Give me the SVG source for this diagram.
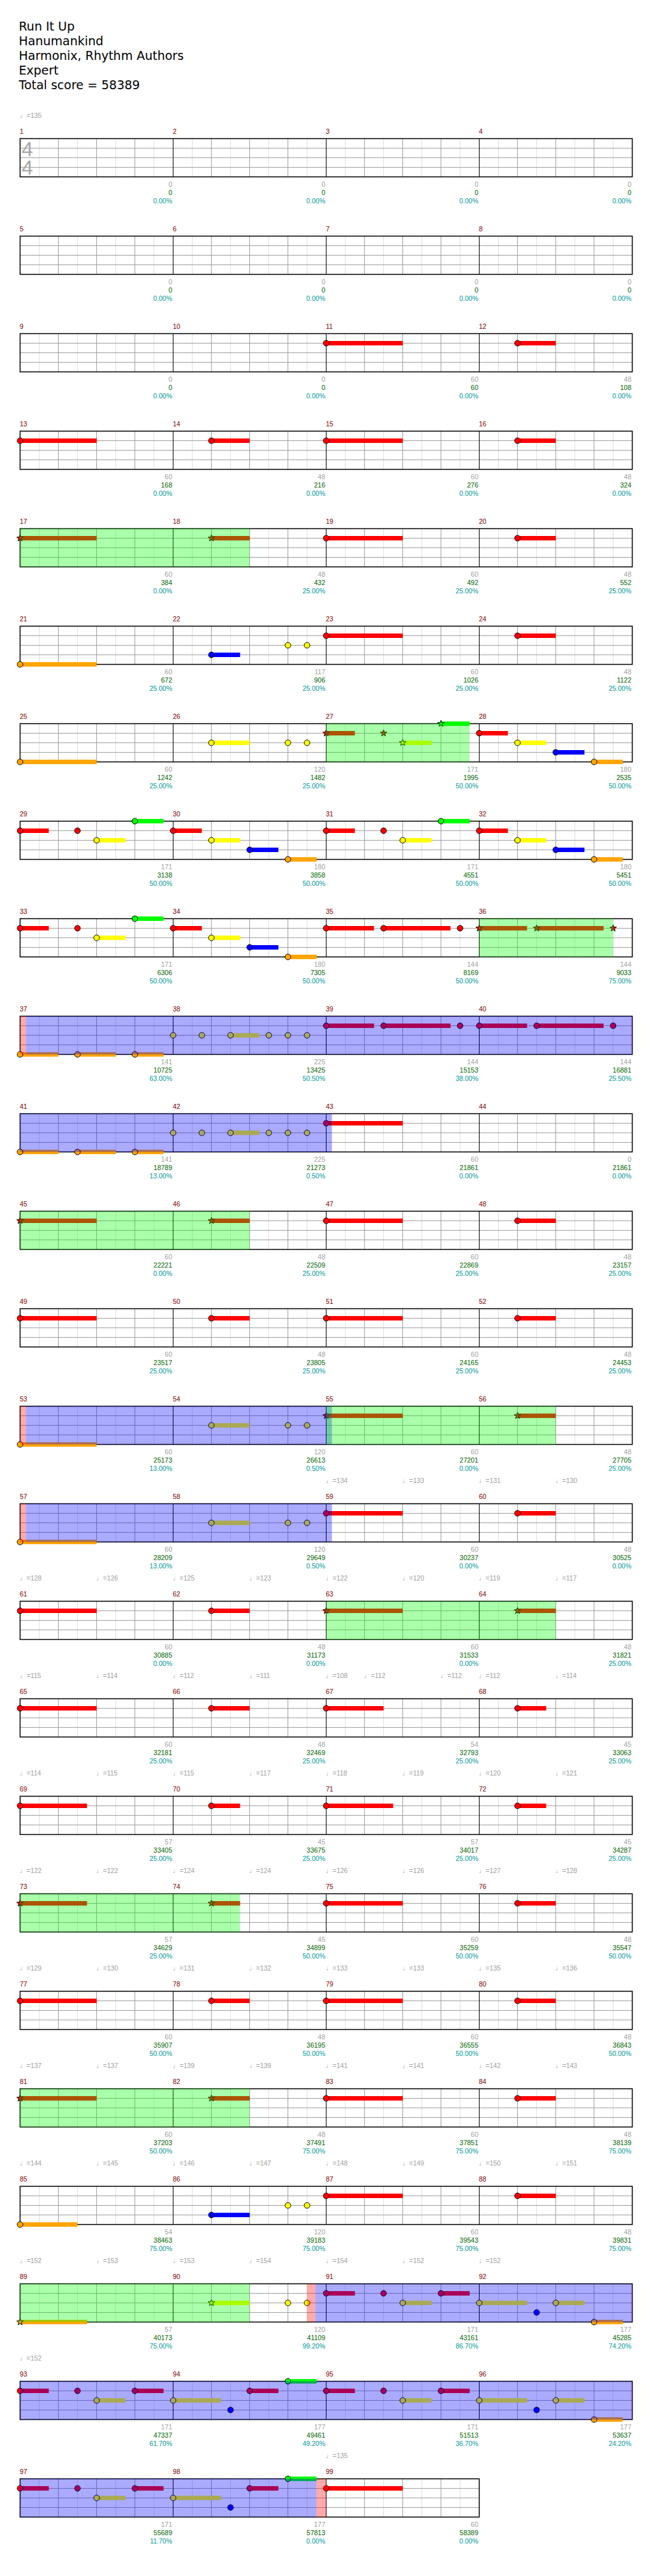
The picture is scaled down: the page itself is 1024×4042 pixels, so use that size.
<svg xmlns="http://www.w3.org/2000/svg" width="1024" height="4042" viewBox="0 0 1024 4042">
<style>
.ti{font-family:"DejaVu Sans",sans-serif;font-size:19px;fill:#000}
.mn{font-family:"Liberation Sans",Arial,sans-serif;font-size:10.5px;fill:#800000}
.a,.c,.d{font-family:"Liberation Sans",Arial,sans-serif;font-size:10.5px;text-anchor:end}
.a{fill:#a0a0a0}.c{fill:#006400}.d{fill:#009999}
.tp{font-family:"Liberation Sans","DejaVu Sans",sans-serif;font-size:10.5px;fill:#a0a0a0}
.ts{font-family:"Liberation Sans",Arial,sans-serif;font-size:32px;fill:#a8a8a8}
circle,use.s{stroke:#000;stroke-width:1}
.r{fill:#f00}.y{fill:#ff0}.b{fill:#00f}.o{fill:#ffa500}.g{fill:#0f0}
.og{fill:#0f0;fill-opacity:.333}.ob{fill:#00f;fill-opacity:.333}.op{fill:#f00;fill-opacity:.333}
</style>
<defs>
<g id="mg">
<path d="M30 0V60M90 0V60M150 0V60M210 0V60" stroke="#e0e0e0"/>
<path d="M60 0V60M120 0V60M180 0V60M0 15H240M0 30H240M0 45H240" stroke="#a0a0a0"/>
<path d="M0 0V60" stroke="#000"/>
</g>
<g id="g4">
<use href="#mg" x="31.5"/><use href="#mg" x="271.5"/><use href="#mg" x="511.5"/><use href="#mg" x="751.5"/>
<rect x="31.5" y="0" width="960" height="60" fill="none" stroke="#000" stroke-width="1.5"/>
</g>
<g id="g3">
<use href="#mg" x="31.5"/><use href="#mg" x="271.5"/><use href="#mg" x="511.5"/>
<rect x="31.5" y="0" width="720" height="60" fill="none" stroke="#000" stroke-width="1.5"/>
</g>
<path id="st" d="M0,-5.5L1.29,-1.78L5.23,-1.7L2.09,0.68L3.23,4.45L0,2.2L-3.23,4.45L-2.09,0.68L-5.23,-1.7L-1.29,-1.78Z"/>
</defs>

<g id="header">
<text class="ti" x="29.5" y="48">Run It Up</text>
<text class="ti" x="29.5" y="71">Hanumankind</text>
<text class="ti" x="29.5" y="94">Harmonix, Rhythm Authors</text>
<text class="ti" x="29.5" y="117">Expert</text>
<text class="ti" x="29.5" y="140">Total score = 58389</text>
</g>

<g id="row1" transform="translate(0,217.5)">
<use href="#g4"/>
<text class="ts" x="34" y="27.5">4</text><text class="ts" x="34" y="56.5">4</text>
<text class="tp" x="31" y="-33">♩=135</text>
<text class="mn" y="-8"><tspan x="31">1</tspan><tspan x="271">2</tspan><tspan x="511">3</tspan><tspan x="751">4</tspan></text>
<text class="a" y="75"><tspan x="270">0</tspan><tspan x="510">0</tspan><tspan x="750">0</tspan><tspan x="990">0</tspan></text>
<text class="c" y="88"><tspan x="270">0</tspan><tspan x="510">0</tspan><tspan x="750">0</tspan><tspan x="990">0</tspan></text>
<text class="d" y="101"><tspan x="270">0.00%</tspan><tspan x="510">0.00%</tspan><tspan x="750">0.00%</tspan><tspan x="990">0.00%</tspan></text>
</g>

<g id="row2" transform="translate(0,370.5)">
<use href="#g4"/>
<text class="mn" y="-8"><tspan x="31">5</tspan><tspan x="271">6</tspan><tspan x="511">7</tspan><tspan x="751">8</tspan></text>
<text class="a" y="75"><tspan x="270">0</tspan><tspan x="510">0</tspan><tspan x="750">0</tspan><tspan x="990">0</tspan></text>
<text class="c" y="88"><tspan x="270">0</tspan><tspan x="510">0</tspan><tspan x="750">0</tspan><tspan x="990">0</tspan></text>
<text class="d" y="101"><tspan x="270">0.00%</tspan><tspan x="510">0.00%</tspan><tspan x="750">0.00%</tspan><tspan x="990">0.00%</tspan></text>
</g>

<g id="row3" transform="translate(0,523.5)">
<use href="#g4"/>
<rect class="r" x="511.5" y="11.5" width="120" height="7"/><rect class="r" x="811.5" y="11.5" width="60" height="7"/>
<circle class="r" cx="511.5" cy="15" r="4.5"/><circle class="r" cx="811.5" cy="15" r="4.5"/>
<text class="mn" y="-8"><tspan x="31">9</tspan><tspan x="271">10</tspan><tspan x="511">11</tspan><tspan x="751">12</tspan></text>
<text class="a" y="75"><tspan x="270">0</tspan><tspan x="510">0</tspan><tspan x="750">60</tspan><tspan x="990">48</tspan></text>
<text class="c" y="88"><tspan x="270">0</tspan><tspan x="510">0</tspan><tspan x="750">60</tspan><tspan x="990">108</tspan></text>
<text class="d" y="101"><tspan x="270">0.00%</tspan><tspan x="510">0.00%</tspan><tspan x="750">0.00%</tspan><tspan x="990">0.00%</tspan></text>
</g>

<g id="row4" transform="translate(0,676.5)">
<use href="#g4"/>
<rect class="r" x="31.5" y="11.5" width="120" height="7"/><rect class="r" x="331.5" y="11.5" width="60" height="7"/><rect class="r" x="511.5" y="11.5" width="120" height="7"/><rect class="r" x="811.5" y="11.5" width="60" height="7"/>
<circle class="r" cx="31.5" cy="15" r="4.5"/><circle class="r" cx="331.5" cy="15" r="4.5"/><circle class="r" cx="511.5" cy="15" r="4.5"/><circle class="r" cx="811.5" cy="15" r="4.5"/>
<text class="mn" y="-8"><tspan x="31">13</tspan><tspan x="271">14</tspan><tspan x="511">15</tspan><tspan x="751">16</tspan></text>
<text class="a" y="75"><tspan x="270">60</tspan><tspan x="510">48</tspan><tspan x="750">60</tspan><tspan x="990">48</tspan></text>
<text class="c" y="88"><tspan x="270">168</tspan><tspan x="510">216</tspan><tspan x="750">276</tspan><tspan x="990">324</tspan></text>
<text class="d" y="101"><tspan x="270">0.00%</tspan><tspan x="510">0.00%</tspan><tspan x="750">0.00%</tspan><tspan x="990">0.00%</tspan></text>
</g>

<g id="row5" transform="translate(0,829.5)">
<use href="#g4"/>
<rect class="r" x="31.5" y="11.5" width="120" height="7"/><rect class="r" x="331.5" y="11.5" width="60" height="7"/><rect class="r" x="511.5" y="11.5" width="120" height="7"/><rect class="r" x="811.5" y="11.5" width="60" height="7"/>
<use class="s r" href="#st" x="31.5" y="15"/><use class="s r" href="#st" x="331.5" y="15"/><circle class="r" cx="511.5" cy="15" r="4.5"/><circle class="r" cx="811.5" cy="15" r="4.5"/>
<rect class="og" x="31.5" y="0" width="360" height="60"/>
<text class="mn" y="-8"><tspan x="31">17</tspan><tspan x="271">18</tspan><tspan x="511">19</tspan><tspan x="751">20</tspan></text>
<text class="a" y="75"><tspan x="270">60</tspan><tspan x="510">48</tspan><tspan x="750">60</tspan><tspan x="990">48</tspan></text>
<text class="c" y="88"><tspan x="270">384</tspan><tspan x="510">432</tspan><tspan x="750">492</tspan><tspan x="990">552</tspan></text>
<text class="d" y="101"><tspan x="270">0.00%</tspan><tspan x="510">25.00%</tspan><tspan x="750">25.00%</tspan><tspan x="990">25.00%</tspan></text>
</g>

<g id="row6" transform="translate(0,982.5)">
<use href="#g4"/>
<rect class="o" x="31.5" y="56.5" width="120" height="7"/><rect class="b" x="331.5" y="41.5" width="45" height="7"/><rect class="r" x="511.5" y="11.5" width="120" height="7"/><rect class="r" x="811.5" y="11.5" width="60" height="7"/>
<circle class="o" cx="31.5" cy="60" r="4.5"/><circle class="b" cx="331.5" cy="45" r="4.5"/><circle class="y" cx="451.5" cy="30" r="4.5"/><circle class="y" cx="481.5" cy="30" r="4.5"/><circle class="r" cx="511.5" cy="15" r="4.5"/><circle class="r" cx="811.5" cy="15" r="4.5"/>
<text class="mn" y="-8"><tspan x="31">21</tspan><tspan x="271">22</tspan><tspan x="511">23</tspan><tspan x="751">24</tspan></text>
<text class="a" y="75"><tspan x="270">60</tspan><tspan x="510">117</tspan><tspan x="750">60</tspan><tspan x="990">48</tspan></text>
<text class="c" y="88"><tspan x="270">672</tspan><tspan x="510">906</tspan><tspan x="750">1026</tspan><tspan x="990">1122</tspan></text>
<text class="d" y="101"><tspan x="270">25.00%</tspan><tspan x="510">25.00%</tspan><tspan x="750">25.00%</tspan><tspan x="990">25.00%</tspan></text>
</g>

<g id="row7" transform="translate(0,1135.5)">
<use href="#g4"/>
<rect class="o" x="31.5" y="56.5" width="120" height="7"/><rect class="y" x="331.5" y="26.5" width="60" height="7"/><rect class="r" x="511.5" y="11.5" width="45" height="7"/><rect class="y" x="631.5" y="26.5" width="45" height="7"/><rect class="g" x="691.5" y="-3.5" width="45" height="7"/><rect class="r" x="751.5" y="11.5" width="45" height="7"/><rect class="y" x="811.5" y="26.5" width="45" height="7"/><rect class="b" x="871.5" y="41.5" width="45" height="7"/><rect class="o" x="931.5" y="56.5" width="45" height="7"/>
<circle class="o" cx="31.5" cy="60" r="4.5"/><circle class="y" cx="331.5" cy="30" r="4.5"/><circle class="y" cx="451.5" cy="30" r="4.5"/><circle class="y" cx="481.5" cy="30" r="4.5"/>
<use class="s r" href="#st" x="511.5" y="15"/><use class="s r" href="#st" x="601.5" y="15"/><use class="s y" href="#st" x="631.5" y="30"/><use class="s g" href="#st" x="691.5" y="0"/>
<circle class="r" cx="751.5" cy="15" r="4.5"/><circle class="y" cx="811.5" cy="30" r="4.5"/><circle class="b" cx="871.5" cy="45" r="4.5"/><circle class="o" cx="931.5" cy="60" r="4.5"/>
<rect class="og" x="511.5" y="0" width="225" height="60"/>
<text class="mn" y="-8"><tspan x="31">25</tspan><tspan x="271">26</tspan><tspan x="511">27</tspan><tspan x="751">28</tspan></text>
<text class="a" y="75"><tspan x="270">60</tspan><tspan x="510">120</tspan><tspan x="750">171</tspan><tspan x="990">180</tspan></text>
<text class="c" y="88"><tspan x="270">1242</tspan><tspan x="510">1482</tspan><tspan x="750">1995</tspan><tspan x="990">2535</tspan></text>
<text class="d" y="101"><tspan x="270">25.00%</tspan><tspan x="510">25.00%</tspan><tspan x="750">50.00%</tspan><tspan x="990">50.00%</tspan></text>
</g>

<g id="row8" transform="translate(0,1288.5)">
<use href="#g4"/>
<rect class="r" x="31.5" y="11.5" width="45" height="7"/><rect class="y" x="151.5" y="26.5" width="45" height="7"/><rect class="g" x="211.5" y="-3.5" width="45" height="7"/><rect class="r" x="271.5" y="11.5" width="45" height="7"/><rect class="y" x="331.5" y="26.5" width="45" height="7"/><rect class="b" x="391.5" y="41.5" width="45" height="7"/><rect class="o" x="451.5" y="56.5" width="45" height="7"/>
<rect class="r" x="511.5" y="11.5" width="45" height="7"/><rect class="y" x="631.5" y="26.5" width="45" height="7"/><rect class="g" x="691.5" y="-3.5" width="45" height="7"/><rect class="r" x="751.5" y="11.5" width="45" height="7"/><rect class="y" x="811.5" y="26.5" width="45" height="7"/><rect class="b" x="871.5" y="41.5" width="45" height="7"/><rect class="o" x="931.5" y="56.5" width="45" height="7"/>
<circle class="r" cx="31.5" cy="15" r="4.5"/><circle class="r" cx="121.5" cy="15" r="4.5"/><circle class="y" cx="151.5" cy="30" r="4.5"/><circle class="g" cx="211.5" cy="0" r="4.5"/><circle class="r" cx="271.5" cy="15" r="4.5"/><circle class="y" cx="331.5" cy="30" r="4.5"/><circle class="b" cx="391.5" cy="45" r="4.5"/><circle class="o" cx="451.5" cy="60" r="4.5"/>
<circle class="r" cx="511.5" cy="15" r="4.5"/><circle class="r" cx="601.5" cy="15" r="4.5"/><circle class="y" cx="631.5" cy="30" r="4.5"/><circle class="g" cx="691.5" cy="0" r="4.5"/><circle class="r" cx="751.5" cy="15" r="4.5"/><circle class="y" cx="811.5" cy="30" r="4.5"/><circle class="b" cx="871.5" cy="45" r="4.5"/><circle class="o" cx="931.5" cy="60" r="4.5"/>
<text class="mn" y="-8"><tspan x="31">29</tspan><tspan x="271">30</tspan><tspan x="511">31</tspan><tspan x="751">32</tspan></text>
<text class="a" y="75"><tspan x="270">171</tspan><tspan x="510">180</tspan><tspan x="750">171</tspan><tspan x="990">180</tspan></text>
<text class="c" y="88"><tspan x="270">3138</tspan><tspan x="510">3858</tspan><tspan x="750">4551</tspan><tspan x="990">5451</tspan></text>
<text class="d" y="101"><tspan x="270">50.00%</tspan><tspan x="510">50.00%</tspan><tspan x="750">50.00%</tspan><tspan x="990">50.00%</tspan></text>
</g>

<g id="row9" transform="translate(0,1441.5)">
<use href="#g4"/>
<rect class="r" x="31.5" y="11.5" width="45" height="7"/><rect class="y" x="151.5" y="26.5" width="45" height="7"/><rect class="g" x="211.5" y="-3.5" width="45" height="7"/><rect class="r" x="271.5" y="11.5" width="45" height="7"/><rect class="y" x="331.5" y="26.5" width="45" height="7"/><rect class="b" x="391.5" y="41.5" width="45" height="7"/><rect class="o" x="451.5" y="56.5" width="45" height="7"/>
<rect class="r" x="511.5" y="11.5" width="75" height="7"/><rect class="r" x="601.5" y="11.5" width="105" height="7"/><rect class="r" x="751.5" y="11.5" width="75" height="7"/><rect class="r" x="841.5" y="11.5" width="105" height="7"/>
<circle class="r" cx="31.5" cy="15" r="4.5"/><circle class="r" cx="121.5" cy="15" r="4.5"/><circle class="y" cx="151.5" cy="30" r="4.5"/><circle class="g" cx="211.5" cy="0" r="4.5"/><circle class="r" cx="271.5" cy="15" r="4.5"/><circle class="y" cx="331.5" cy="30" r="4.5"/><circle class="b" cx="391.5" cy="45" r="4.5"/><circle class="o" cx="451.5" cy="60" r="4.5"/>
<circle class="r" cx="511.5" cy="15" r="4.5"/><circle class="r" cx="601.5" cy="15" r="4.5"/><circle class="r" cx="721.5" cy="15" r="4.5"/>
<use class="s r" href="#st" x="751.5" y="15"/><use class="s r" href="#st" x="841.5" y="15"/><use class="s r" href="#st" x="961.5" y="15"/>
<rect class="og" x="751.5" y="0" width="210" height="60"/>
<text class="mn" y="-8"><tspan x="31">33</tspan><tspan x="271">34</tspan><tspan x="511">35</tspan><tspan x="751">36</tspan></text>
<text class="a" y="75"><tspan x="270">171</tspan><tspan x="510">180</tspan><tspan x="750">144</tspan><tspan x="990">144</tspan></text>
<text class="c" y="88"><tspan x="270">6306</tspan><tspan x="510">7305</tspan><tspan x="750">8169</tspan><tspan x="990">9033</tspan></text>
<text class="d" y="101"><tspan x="270">50.00%</tspan><tspan x="510">50.00%</tspan><tspan x="750">50.00%</tspan><tspan x="990">75.00%</tspan></text>
</g>

<g id="row10" transform="translate(0,1594.5)">
<use href="#g4"/>
<rect class="o" x="31.5" y="56.5" width="60" height="7"/><rect class="o" x="121.5" y="56.5" width="60" height="7"/><rect class="o" x="211.5" y="56.5" width="45" height="7"/><rect class="y" x="361.5" y="26.5" width="45" height="7"/>
<rect class="r" x="511.5" y="11.5" width="75" height="7"/><rect class="r" x="601.5" y="11.5" width="105" height="7"/><rect class="r" x="751.5" y="11.5" width="75" height="7"/><rect class="r" x="841.5" y="11.5" width="105" height="7"/>
<circle class="o" cx="31.5" cy="60" r="4.5"/><circle class="o" cx="121.5" cy="60" r="4.5"/><circle class="o" cx="211.5" cy="60" r="4.5"/>
<circle class="y" cx="271.5" cy="30" r="4.5"/><circle class="y" cx="316.5" cy="30" r="4.5"/><circle class="y" cx="361.5" cy="30" r="4.5"/><circle class="y" cx="421.5" cy="30" r="4.5"/><circle class="y" cx="451.5" cy="30" r="4.5"/><circle class="y" cx="481.5" cy="30" r="4.5"/>
<circle class="r" cx="511.5" cy="15" r="4.5"/><circle class="r" cx="601.5" cy="15" r="4.5"/><circle class="r" cx="721.5" cy="15" r="4.5"/><circle class="r" cx="751.5" cy="15" r="4.5"/><circle class="r" cx="841.5" cy="15" r="4.5"/><circle class="r" cx="961.5" cy="15" r="4.5"/>
<rect class="op" x="31.5" y="0" width="9" height="60"/><rect class="ob" x="40.5" y="0" width="951" height="60"/>
<text class="mn" y="-8"><tspan x="31">37</tspan><tspan x="271">38</tspan><tspan x="511">39</tspan><tspan x="751">40</tspan></text>
<text class="a" y="75"><tspan x="270">141</tspan><tspan x="510">225</tspan><tspan x="750">144</tspan><tspan x="990">144</tspan></text>
<text class="c" y="88"><tspan x="270">10725</tspan><tspan x="510">13425</tspan><tspan x="750">15153</tspan><tspan x="990">16881</tspan></text>
<text class="d" y="101"><tspan x="270">63.00%</tspan><tspan x="510">50.50%</tspan><tspan x="750">38.00%</tspan><tspan x="990">25.50%</tspan></text>
</g>

<g id="row11" transform="translate(0,1747.5)">
<use href="#g4"/>
<rect class="o" x="31.5" y="56.5" width="60" height="7"/><rect class="o" x="121.5" y="56.5" width="60" height="7"/><rect class="o" x="211.5" y="56.5" width="45" height="7"/><rect class="y" x="361.5" y="26.5" width="45" height="7"/><rect class="r" x="511.5" y="11.5" width="120" height="7"/>
<circle class="o" cx="31.5" cy="60" r="4.5"/><circle class="o" cx="121.5" cy="60" r="4.5"/><circle class="o" cx="211.5" cy="60" r="4.5"/>
<circle class="y" cx="271.5" cy="30" r="4.5"/><circle class="y" cx="316.5" cy="30" r="4.5"/><circle class="y" cx="361.5" cy="30" r="4.5"/><circle class="y" cx="421.5" cy="30" r="4.5"/><circle class="y" cx="451.5" cy="30" r="4.5"/><circle class="y" cx="481.5" cy="30" r="4.5"/>
<circle class="r" cx="511.5" cy="15" r="4.5"/>
<rect class="ob" x="31.5" y="0" width="489" height="60"/>
<text class="mn" y="-8"><tspan x="31">41</tspan><tspan x="271">42</tspan><tspan x="511">43</tspan><tspan x="751">44</tspan></text>
<text class="a" y="75"><tspan x="270">141</tspan><tspan x="510">225</tspan><tspan x="750">60</tspan><tspan x="990">0</tspan></text>
<text class="c" y="88"><tspan x="270">18789</tspan><tspan x="510">21273</tspan><tspan x="750">21861</tspan><tspan x="990">21861</tspan></text>
<text class="d" y="101"><tspan x="270">13.00%</tspan><tspan x="510">0.50%</tspan><tspan x="750">0.00%</tspan><tspan x="990">0.00%</tspan></text>
</g>

<g id="row12" transform="translate(0,1900.5)">
<use href="#g4"/>
<rect class="r" x="31.5" y="11.5" width="120" height="7"/><rect class="r" x="331.5" y="11.5" width="60" height="7"/><rect class="r" x="511.5" y="11.5" width="120" height="7"/><rect class="r" x="811.5" y="11.5" width="60" height="7"/>
<use class="s r" href="#st" x="31.5" y="15"/><use class="s r" href="#st" x="331.5" y="15"/><circle class="r" cx="511.5" cy="15" r="4.5"/><circle class="r" cx="811.5" cy="15" r="4.5"/>
<rect class="og" x="31.5" y="0" width="360" height="60"/>
<text class="mn" y="-8"><tspan x="31">45</tspan><tspan x="271">46</tspan><tspan x="511">47</tspan><tspan x="751">48</tspan></text>
<text class="a" y="75"><tspan x="270">60</tspan><tspan x="510">48</tspan><tspan x="750">60</tspan><tspan x="990">48</tspan></text>
<text class="c" y="88"><tspan x="270">22221</tspan><tspan x="510">22509</tspan><tspan x="750">22869</tspan><tspan x="990">23157</tspan></text>
<text class="d" y="101"><tspan x="270">0.00%</tspan><tspan x="510">25.00%</tspan><tspan x="750">25.00%</tspan><tspan x="990">25.00%</tspan></text>
</g>

<g id="row13" transform="translate(0,2053.5)">
<use href="#g4"/>
<rect class="r" x="31.5" y="11.5" width="120" height="7"/><rect class="r" x="331.5" y="11.5" width="60" height="7"/><rect class="r" x="511.5" y="11.5" width="120" height="7"/><rect class="r" x="811.5" y="11.5" width="60" height="7"/>
<circle class="r" cx="31.5" cy="15" r="4.5"/><circle class="r" cx="331.5" cy="15" r="4.5"/><circle class="r" cx="511.5" cy="15" r="4.5"/><circle class="r" cx="811.5" cy="15" r="4.5"/>
<text class="mn" y="-8"><tspan x="31">49</tspan><tspan x="271">50</tspan><tspan x="511">51</tspan><tspan x="751">52</tspan></text>
<text class="a" y="75"><tspan x="270">60</tspan><tspan x="510">48</tspan><tspan x="750">60</tspan><tspan x="990">48</tspan></text>
<text class="c" y="88"><tspan x="270">23517</tspan><tspan x="510">23805</tspan><tspan x="750">24165</tspan><tspan x="990">24453</tspan></text>
<text class="d" y="101"><tspan x="270">25.00%</tspan><tspan x="510">25.00%</tspan><tspan x="750">25.00%</tspan><tspan x="990">25.00%</tspan></text>
</g>

<g id="row14" transform="translate(0,2206.5)">
<use href="#g4"/>
<rect class="o" x="31.5" y="56.5" width="120" height="7"/><rect class="y" x="331.5" y="26.5" width="60" height="7"/><rect class="r" x="511.5" y="11.5" width="120" height="7"/><rect class="r" x="811.5" y="11.5" width="60" height="7"/>
<circle class="o" cx="31.5" cy="60" r="4.5"/><circle class="y" cx="331.5" cy="30" r="4.5"/><circle class="y" cx="451.5" cy="30" r="4.5"/><circle class="y" cx="481.5" cy="30" r="4.5"/>
<use class="s r" href="#st" x="511.5" y="15"/><use class="s r" href="#st" x="811.5" y="15"/>
<rect class="op" x="31.5" y="0" width="9" height="60"/><rect class="ob" x="40.5" y="0" width="480" height="60"/><rect class="og" x="511.5" y="0" width="360" height="60"/>
<text class="mn" y="-8"><tspan x="31">53</tspan><tspan x="271">54</tspan><tspan x="511">55</tspan><tspan x="751">56</tspan></text>
<text class="a" y="75"><tspan x="270">60</tspan><tspan x="510">120</tspan><tspan x="750">60</tspan><tspan x="990">48</tspan></text>
<text class="c" y="88"><tspan x="270">25173</tspan><tspan x="510">26613</tspan><tspan x="750">27201</tspan><tspan x="990">27705</tspan></text>
<text class="d" y="101"><tspan x="270">13.00%</tspan><tspan x="510">0.50%</tspan><tspan x="750">0.00%</tspan><tspan x="990">25.00%</tspan></text>
</g>

<g id="row15" transform="translate(0,2359.5)">
<use href="#g4"/>
<text class="tp" y="-33"><tspan x="511">♩=134</tspan><tspan x="631">♩=133</tspan><tspan x="751">♩=131</tspan><tspan x="871">♩=130</tspan></text>
<rect class="o" x="31.5" y="56.5" width="120" height="7"/><rect class="y" x="331.5" y="26.5" width="60" height="7"/><rect class="r" x="511.5" y="11.5" width="120" height="7"/><rect class="r" x="811.5" y="11.5" width="60" height="7"/>
<circle class="o" cx="31.5" cy="60" r="4.5"/><circle class="y" cx="331.5" cy="30" r="4.5"/><circle class="y" cx="451.5" cy="30" r="4.5"/><circle class="y" cx="481.5" cy="30" r="4.5"/><circle class="r" cx="511.5" cy="15" r="4.5"/><circle class="r" cx="811.5" cy="15" r="4.5"/>
<rect class="op" x="31.5" y="0" width="9" height="60"/><rect class="ob" x="40.5" y="0" width="480" height="60"/>
<text class="mn" y="-8"><tspan x="31">57</tspan><tspan x="271">58</tspan><tspan x="511">59</tspan><tspan x="751">60</tspan></text>
<text class="a" y="75"><tspan x="270">60</tspan><tspan x="510">120</tspan><tspan x="750">60</tspan><tspan x="990">48</tspan></text>
<text class="c" y="88"><tspan x="270">28209</tspan><tspan x="510">29649</tspan><tspan x="750">30237</tspan><tspan x="990">30525</tspan></text>
<text class="d" y="101"><tspan x="270">13.00%</tspan><tspan x="510">0.50%</tspan><tspan x="750">0.00%</tspan><tspan x="990">0.00%</tspan></text>
</g>

<g id="row16" transform="translate(0,2512.5)">
<use href="#g4"/>
<text class="tp" y="-33"><tspan x="31">♩=128</tspan><tspan x="151">♩=126</tspan><tspan x="271">♩=125</tspan><tspan x="391">♩=123</tspan><tspan x="511">♩=122</tspan><tspan x="631">♩=120</tspan><tspan x="751">♩=119</tspan><tspan x="871">♩=117</tspan></text>
<rect class="r" x="31.5" y="11.5" width="120" height="7"/><rect class="r" x="331.5" y="11.5" width="60" height="7"/><rect class="r" x="511.5" y="11.5" width="120" height="7"/><rect class="r" x="811.5" y="11.5" width="60" height="7"/>
<circle class="r" cx="31.5" cy="15" r="4.5"/><circle class="r" cx="331.5" cy="15" r="4.5"/><use class="s r" href="#st" x="511.5" y="15"/><use class="s r" href="#st" x="811.5" y="15"/>
<rect class="og" x="511.5" y="0" width="360" height="60"/>
<text class="mn" y="-8"><tspan x="31">61</tspan><tspan x="271">62</tspan><tspan x="511">63</tspan><tspan x="751">64</tspan></text>
<text class="a" y="75"><tspan x="270">60</tspan><tspan x="510">48</tspan><tspan x="750">60</tspan><tspan x="990">48</tspan></text>
<text class="c" y="88"><tspan x="270">30885</tspan><tspan x="510">31173</tspan><tspan x="750">31533</tspan><tspan x="990">31821</tspan></text>
<text class="d" y="101"><tspan x="270">0.00%</tspan><tspan x="510">0.00%</tspan><tspan x="750">0.00%</tspan><tspan x="990">25.00%</tspan></text>
</g>

<g id="row17" transform="translate(0,2665.5)">
<use href="#g4"/>
<text class="tp" y="-33"><tspan x="31">♩=115</tspan><tspan x="151">♩=114</tspan><tspan x="271">♩=112</tspan><tspan x="391">♩=111</tspan><tspan x="511">♩=108</tspan><tspan x="571">♩=112</tspan><tspan x="691">♩=112</tspan><tspan x="751">♩=112</tspan><tspan x="871">♩=114</tspan></text>
<rect class="r" x="31.5" y="11.5" width="120" height="7"/><rect class="r" x="331.5" y="11.5" width="60" height="7"/><rect class="r" x="511.5" y="11.5" width="90" height="7"/><rect class="r" x="811.5" y="11.5" width="45" height="7"/>
<circle class="r" cx="31.5" cy="15" r="4.5"/><circle class="r" cx="331.5" cy="15" r="4.5"/><circle class="r" cx="511.5" cy="15" r="4.5"/><circle class="r" cx="811.5" cy="15" r="4.5"/>
<text class="mn" y="-8"><tspan x="31">65</tspan><tspan x="271">66</tspan><tspan x="511">67</tspan><tspan x="751">68</tspan></text>
<text class="a" y="75"><tspan x="270">60</tspan><tspan x="510">48</tspan><tspan x="750">54</tspan><tspan x="990">45</tspan></text>
<text class="c" y="88"><tspan x="270">32181</tspan><tspan x="510">32469</tspan><tspan x="750">32793</tspan><tspan x="990">33063</tspan></text>
<text class="d" y="101"><tspan x="270">25.00%</tspan><tspan x="510">25.00%</tspan><tspan x="750">25.00%</tspan><tspan x="990">25.00%</tspan></text>
</g>

<g id="row18" transform="translate(0,2818.5)">
<use href="#g4"/>
<text class="tp" y="-33"><tspan x="31">♩=114</tspan><tspan x="151">♩=115</tspan><tspan x="271">♩=115</tspan><tspan x="391">♩=117</tspan><tspan x="511">♩=118</tspan><tspan x="631">♩=119</tspan><tspan x="751">♩=120</tspan><tspan x="871">♩=121</tspan></text>
<rect class="r" x="31.5" y="11.5" width="105" height="7"/><rect class="r" x="331.5" y="11.5" width="45" height="7"/><rect class="r" x="511.5" y="11.5" width="105" height="7"/><rect class="r" x="811.5" y="11.5" width="45" height="7"/>
<circle class="r" cx="31.5" cy="15" r="4.5"/><circle class="r" cx="331.5" cy="15" r="4.5"/><circle class="r" cx="511.5" cy="15" r="4.5"/><circle class="r" cx="811.5" cy="15" r="4.5"/>
<text class="mn" y="-8"><tspan x="31">69</tspan><tspan x="271">70</tspan><tspan x="511">71</tspan><tspan x="751">72</tspan></text>
<text class="a" y="75"><tspan x="270">57</tspan><tspan x="510">45</tspan><tspan x="750">57</tspan><tspan x="990">45</tspan></text>
<text class="c" y="88"><tspan x="270">33405</tspan><tspan x="510">33675</tspan><tspan x="750">34017</tspan><tspan x="990">34287</tspan></text>
<text class="d" y="101"><tspan x="270">25.00%</tspan><tspan x="510">25.00%</tspan><tspan x="750">25.00%</tspan><tspan x="990">25.00%</tspan></text>
</g>

<g id="row19" transform="translate(0,2971.5)">
<use href="#g4"/>
<text class="tp" y="-33"><tspan x="31">♩=122</tspan><tspan x="151">♩=122</tspan><tspan x="271">♩=124</tspan><tspan x="391">♩=124</tspan><tspan x="511">♩=126</tspan><tspan x="631">♩=126</tspan><tspan x="751">♩=127</tspan><tspan x="871">♩=128</tspan></text>
<rect class="r" x="31.5" y="11.5" width="105" height="7"/><rect class="r" x="331.5" y="11.5" width="45" height="7"/><rect class="r" x="511.5" y="11.5" width="120" height="7"/><rect class="r" x="811.5" y="11.5" width="60" height="7"/>
<use class="s r" href="#st" x="31.5" y="15"/><use class="s r" href="#st" x="331.5" y="15"/><circle class="r" cx="511.5" cy="15" r="4.5"/><circle class="r" cx="811.5" cy="15" r="4.5"/>
<rect class="og" x="31.5" y="0" width="345" height="60"/>
<text class="mn" y="-8"><tspan x="31">73</tspan><tspan x="271">74</tspan><tspan x="511">75</tspan><tspan x="751">76</tspan></text>
<text class="a" y="75"><tspan x="270">57</tspan><tspan x="510">45</tspan><tspan x="750">60</tspan><tspan x="990">48</tspan></text>
<text class="c" y="88"><tspan x="270">34629</tspan><tspan x="510">34899</tspan><tspan x="750">35259</tspan><tspan x="990">35547</tspan></text>
<text class="d" y="101"><tspan x="270">25.00%</tspan><tspan x="510">50.00%</tspan><tspan x="750">50.00%</tspan><tspan x="990">50.00%</tspan></text>
</g>

<g id="row20" transform="translate(0,3124.5)">
<use href="#g4"/>
<text class="tp" y="-33"><tspan x="31">♩=129</tspan><tspan x="151">♩=130</tspan><tspan x="271">♩=131</tspan><tspan x="391">♩=132</tspan><tspan x="511">♩=133</tspan><tspan x="631">♩=133</tspan><tspan x="751">♩=135</tspan><tspan x="871">♩=136</tspan></text>
<rect class="r" x="31.5" y="11.5" width="120" height="7"/><rect class="r" x="331.5" y="11.5" width="60" height="7"/><rect class="r" x="511.5" y="11.5" width="120" height="7"/><rect class="r" x="811.5" y="11.5" width="60" height="7"/>
<circle class="r" cx="31.5" cy="15" r="4.5"/><circle class="r" cx="331.5" cy="15" r="4.5"/><circle class="r" cx="511.5" cy="15" r="4.5"/><circle class="r" cx="811.5" cy="15" r="4.5"/>
<text class="mn" y="-8"><tspan x="31">77</tspan><tspan x="271">78</tspan><tspan x="511">79</tspan><tspan x="751">80</tspan></text>
<text class="a" y="75"><tspan x="270">60</tspan><tspan x="510">48</tspan><tspan x="750">60</tspan><tspan x="990">48</tspan></text>
<text class="c" y="88"><tspan x="270">35907</tspan><tspan x="510">36195</tspan><tspan x="750">36555</tspan><tspan x="990">36843</tspan></text>
<text class="d" y="101"><tspan x="270">50.00%</tspan><tspan x="510">50.00%</tspan><tspan x="750">50.00%</tspan><tspan x="990">50.00%</tspan></text>
</g>

<g id="row21" transform="translate(0,3277.5)">
<use href="#g4"/>
<text class="tp" y="-33"><tspan x="31">♩=137</tspan><tspan x="151">♩=137</tspan><tspan x="271">♩=139</tspan><tspan x="391">♩=139</tspan><tspan x="511">♩=141</tspan><tspan x="631">♩=141</tspan><tspan x="751">♩=142</tspan><tspan x="871">♩=143</tspan></text>
<rect class="r" x="31.5" y="11.5" width="120" height="7"/><rect class="r" x="331.5" y="11.5" width="60" height="7"/><rect class="r" x="511.5" y="11.5" width="120" height="7"/><rect class="r" x="811.5" y="11.5" width="60" height="7"/>
<use class="s r" href="#st" x="31.5" y="15"/><use class="s r" href="#st" x="331.5" y="15"/><circle class="r" cx="511.5" cy="15" r="4.5"/><circle class="r" cx="811.5" cy="15" r="4.5"/>
<rect class="og" x="31.5" y="0" width="360" height="60"/>
<text class="mn" y="-8"><tspan x="31">81</tspan><tspan x="271">82</tspan><tspan x="511">83</tspan><tspan x="751">84</tspan></text>
<text class="a" y="75"><tspan x="270">60</tspan><tspan x="510">48</tspan><tspan x="750">60</tspan><tspan x="990">48</tspan></text>
<text class="c" y="88"><tspan x="270">37203</tspan><tspan x="510">37491</tspan><tspan x="750">37851</tspan><tspan x="990">38139</tspan></text>
<text class="d" y="101"><tspan x="270">50.00%</tspan><tspan x="510">75.00%</tspan><tspan x="750">75.00%</tspan><tspan x="990">75.00%</tspan></text>
</g>

<g id="row22" transform="translate(0,3430.5)">
<use href="#g4"/>
<text class="tp" y="-33"><tspan x="31">♩=144</tspan><tspan x="151">♩=145</tspan><tspan x="271">♩=146</tspan><tspan x="391">♩=147</tspan><tspan x="511">♩=148</tspan><tspan x="631">♩=149</tspan><tspan x="751">♩=150</tspan><tspan x="871">♩=151</tspan></text>
<rect class="o" x="31.5" y="56.5" width="90" height="7"/><rect class="b" x="331.5" y="41.5" width="60" height="7"/><rect class="r" x="511.5" y="11.5" width="120" height="7"/><rect class="r" x="811.5" y="11.5" width="60" height="7"/>
<circle class="o" cx="31.5" cy="60" r="4.5"/><circle class="b" cx="331.5" cy="45" r="4.5"/><circle class="y" cx="451.5" cy="30" r="4.5"/><circle class="y" cx="481.5" cy="30" r="4.5"/><circle class="r" cx="511.5" cy="15" r="4.5"/><circle class="r" cx="811.5" cy="15" r="4.5"/>
<text class="mn" y="-8"><tspan x="31">85</tspan><tspan x="271">86</tspan><tspan x="511">87</tspan><tspan x="751">88</tspan></text>
<text class="a" y="75"><tspan x="270">54</tspan><tspan x="510">120</tspan><tspan x="750">60</tspan><tspan x="990">48</tspan></text>
<text class="c" y="88"><tspan x="270">38463</tspan><tspan x="510">39183</tspan><tspan x="750">39543</tspan><tspan x="990">39831</tspan></text>
<text class="d" y="101"><tspan x="270">75.00%</tspan><tspan x="510">75.00%</tspan><tspan x="750">75.00%</tspan><tspan x="990">75.00%</tspan></text>
</g>

<g id="row23" transform="translate(0,3583.5)">
<use href="#g4"/>
<text class="tp" y="-33"><tspan x="31">♩=152</tspan><tspan x="151">♩=153</tspan><tspan x="271">♩=153</tspan><tspan x="391">♩=154</tspan><tspan x="511">♩=154</tspan><tspan x="631">♩=152</tspan><tspan x="751">♩=152</tspan></text>
<rect class="o" x="31.5" y="56.5" width="105" height="7"/><rect class="y" x="331.5" y="26.5" width="60" height="7"/><rect class="r" x="511.5" y="11.5" width="45" height="7"/><rect class="y" x="631.5" y="26.5" width="45" height="7"/><rect class="r" x="691.5" y="11.5" width="45" height="7"/><rect class="y" x="751.5" y="26.5" width="75" height="7"/><rect class="y" x="871.5" y="26.5" width="45" height="7"/><rect class="o" x="931.5" y="56.5" width="45" height="7"/>
<use class="s o" href="#st" x="31.5" y="60"/><use class="s y" href="#st" x="331.5" y="30"/>
<circle class="y" cx="451.5" cy="30" r="4.5"/><circle class="y" cx="481.5" cy="30" r="4.5"/><circle class="r" cx="511.5" cy="15" r="4.5"/><circle class="r" cx="601.5" cy="15" r="4.5"/><circle class="y" cx="631.5" cy="30" r="4.5"/><circle class="r" cx="691.5" cy="15" r="4.5"/><circle class="y" cx="751.5" cy="30" r="4.5"/><circle class="b" cx="841.5" cy="45" r="4.5"/><circle class="y" cx="871.5" cy="30" r="4.5"/><circle class="o" cx="931.5" cy="60" r="4.5"/>
<rect class="og" x="31.5" y="0" width="360" height="60"/><rect class="op" x="481.5" y="0" width="13" height="60"/><rect class="ob" x="494.5" y="0" width="497" height="60"/>
<text class="mn" y="-8"><tspan x="31">89</tspan><tspan x="271">90</tspan><tspan x="511">91</tspan><tspan x="751">92</tspan></text>
<text class="a" y="75"><tspan x="270">57</tspan><tspan x="510">120</tspan><tspan x="750">171</tspan><tspan x="990">177</tspan></text>
<text class="c" y="88"><tspan x="270">40173</tspan><tspan x="510">41109</tspan><tspan x="750">43161</tspan><tspan x="990">45285</tspan></text>
<text class="d" y="101"><tspan x="270">75.00%</tspan><tspan x="510">99.20%</tspan><tspan x="750">86.70%</tspan><tspan x="990">74.20%</tspan></text>
</g>

<g id="row24" transform="translate(0,3736.5)">
<use href="#g4"/>
<text class="tp" x="31" y="-33">♩=152</text>
<rect class="r" x="31.5" y="11.5" width="45" height="7"/><rect class="y" x="151.5" y="26.5" width="45" height="7"/><rect class="r" x="211.5" y="11.5" width="45" height="7"/><rect class="y" x="271.5" y="26.5" width="75" height="7"/><rect class="r" x="391.5" y="11.5" width="45" height="7"/><rect class="g" x="451.5" y="-3.5" width="45" height="7"/>
<rect class="r" x="511.5" y="11.5" width="45" height="7"/><rect class="y" x="631.5" y="26.5" width="45" height="7"/><rect class="r" x="691.5" y="11.5" width="45" height="7"/><rect class="y" x="751.5" y="26.5" width="75" height="7"/><rect class="y" x="871.5" y="26.5" width="45" height="7"/><rect class="o" x="931.5" y="56.5" width="45" height="7"/>
<circle class="r" cx="31.5" cy="15" r="4.5"/><circle class="r" cx="121.5" cy="15" r="4.5"/><circle class="y" cx="151.5" cy="30" r="4.5"/><circle class="r" cx="211.5" cy="15" r="4.5"/><circle class="y" cx="271.5" cy="30" r="4.5"/><circle class="b" cx="361.5" cy="45" r="4.5"/><circle class="r" cx="391.5" cy="15" r="4.5"/><circle class="g" cx="451.5" cy="0" r="4.5"/>
<circle class="r" cx="511.5" cy="15" r="4.5"/><circle class="r" cx="601.5" cy="15" r="4.5"/><circle class="y" cx="631.5" cy="30" r="4.5"/><circle class="r" cx="691.5" cy="15" r="4.5"/><circle class="y" cx="751.5" cy="30" r="4.5"/><circle class="b" cx="841.5" cy="45" r="4.5"/><circle class="y" cx="871.5" cy="30" r="4.5"/><circle class="o" cx="931.5" cy="60" r="4.5"/>
<rect class="ob" x="31.5" y="0" width="960" height="60"/>
<text class="mn" y="-8"><tspan x="31">93</tspan><tspan x="271">94</tspan><tspan x="511">95</tspan><tspan x="751">96</tspan></text>
<text class="a" y="75"><tspan x="270">171</tspan><tspan x="510">177</tspan><tspan x="750">171</tspan><tspan x="990">177</tspan></text>
<text class="c" y="88"><tspan x="270">47337</tspan><tspan x="510">49461</tspan><tspan x="750">51513</tspan><tspan x="990">53637</tspan></text>
<text class="d" y="101"><tspan x="270">61.70%</tspan><tspan x="510">49.20%</tspan><tspan x="750">36.70%</tspan><tspan x="990">24.20%</tspan></text>
</g>

<g id="row25" transform="translate(0,3889.5)">
<use href="#g3"/>
<text class="tp" x="511" y="-33">♩=135</text>
<rect class="r" x="31.5" y="11.5" width="45" height="7"/><rect class="y" x="151.5" y="26.5" width="45" height="7"/><rect class="r" x="211.5" y="11.5" width="45" height="7"/><rect class="y" x="271.5" y="26.5" width="75" height="7"/><rect class="r" x="391.5" y="11.5" width="45" height="7"/><rect class="g" x="451.5" y="-3.5" width="45" height="7"/><rect class="r" x="511.5" y="11.5" width="120" height="7"/>
<circle class="r" cx="31.5" cy="15" r="4.5"/><circle class="r" cx="121.5" cy="15" r="4.5"/><circle class="y" cx="151.5" cy="30" r="4.5"/><circle class="r" cx="211.5" cy="15" r="4.5"/><circle class="y" cx="271.5" cy="30" r="4.5"/><circle class="b" cx="361.5" cy="45" r="4.5"/><circle class="r" cx="391.5" cy="15" r="4.5"/><circle class="g" cx="451.5" cy="0" r="4.5"/><circle class="r" cx="511.5" cy="15" r="4.5"/>
<rect class="ob" x="31.5" y="0" width="464.5" height="60"/><rect class="op" x="496" y="0" width="15.5" height="60"/>
<text class="mn" y="-8"><tspan x="31">97</tspan><tspan x="271">98</tspan><tspan x="511">99</tspan></text>
<text class="a" y="75"><tspan x="270">171</tspan><tspan x="510">177</tspan><tspan x="750">60</tspan></text>
<text class="c" y="88"><tspan x="270">55689</tspan><tspan x="510">57813</tspan><tspan x="750">58389</tspan></text>
<text class="d" y="101"><tspan x="270">11.70%</tspan><tspan x="510">0.00%</tspan><tspan x="750">0.00%</tspan></text>
</g>
</svg>
